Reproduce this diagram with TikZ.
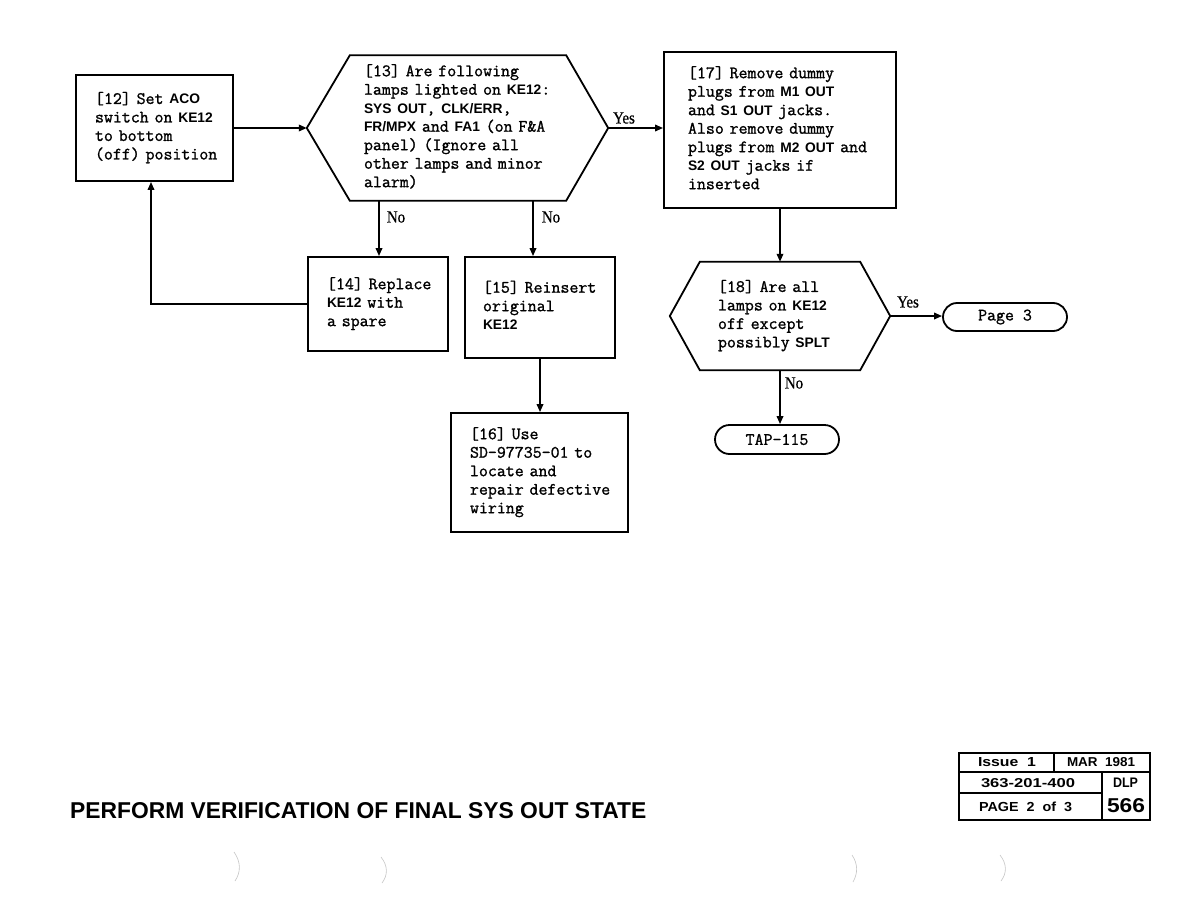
\documentclass[tikz,border=0pt]{standalone}
\usepackage{fontspec}
\usepackage{graphicx}
\usetikzlibrary{shapes.misc,arrows.meta}
\newfontfamily\bsf{Liberation Sans}
\newfontfamily\tw{Latin Modern Mono}[FakeBold=1.2]
\newfontfamily\lser{Liberation Serif}[FakeStretch=0.88,FakeBold=0.6]
\newcommand\B[1]{{\bsf\bfseries\fontsize{13.8pt}{18.5pt}\selectfont #1}}
\newcommand\lines[1]{\begin{tabular}{@{}l@{}}#1\end{tabular}}
\tikzset{
  mono/.style={font=\tw\fontsize{17.4pt}{18.5pt}\selectfont},
  stepbox/.style={draw, line width=1.8pt, rectangle, align=left, mono, inner ysep=0pt},
  hexnode/.style={rectangle, align=left, mono, inner ysep=0pt},
  term/.style={draw, rounded rectangle, line width=1.8pt, mono, inner sep=0pt},
  lab/.style={font=\lser\fontsize{17pt}{17pt}\selectfont, inner sep=0pt},
  conn/.style={line width=1.8pt},
  arr/.style={line width=1.8pt, -{Triangle[length=8pt,width=6.5pt]}},
  punch/.style={draw=gray!45, line width=0.6pt},
  tab/.style={line width=1.8pt}
}
\begin{document}
\begin{tikzpicture}[x=1pt,y=-1pt]
\fill[white] (0,0) rectangle (1188,918);
\useasboundingbox (0,0) rectangle (1188,918);

% step boxes
\node[stepbox, minimum width=157pt, minimum height=106pt, text width=119pt, inner xsep=19pt] (b12) at (154.5,128)
  {\lines{[12] Set \B{ACO}\\switch on \B{KE12}\\to bottom\\(off) position}};
\node[hexnode, minimum width=301pt, minimum height=145pt, text width=187pt, inner xsep=57pt] (h13) at (457.5,128)
  {\lines{[13] Are following\\lamps lighted on \B{KE12}:\\\B{SYS OUT}, \B{CLK/ERR},\\\B{FR/MPX} and \B{FA1} (on F\&A\\panel) (Ignore all\\other lamps and minor\\alarm)}};
\node[stepbox, minimum width=232pt, minimum height=156pt, text width=184pt, inner xsep=24pt] (b17) at (780,130)
  {\lines{[17] Remove dummy\\plugs from \B{M1 OUT}\\and \B{S1 OUT} jacks.\\Also remove dummy\\plugs from \B{M2 OUT} and\\\B{S2 OUT} jacks if\\inserted}};
\node[stepbox, minimum width=140pt, minimum height=94pt, text width=102pt, inner xsep=19pt] (b14) at (378,304)
  {\lines{[14] Replace\\\B{KE12} with\\a spare}};
\node[stepbox, minimum width=150pt, minimum height=101pt, text width=114pt, inner xsep=18pt] (b15) at (540,307.5)
  {\lines{[15] Reinsert\\original\\\B{KE12}}};
\node[stepbox, minimum width=177pt, minimum height=119pt, text width=139pt, inner xsep=19pt] (b16) at (539.5,472.5)
  {\lines{[16] Use\\SD-97735-01 to\\locate and\\repair defective\\wiring}};
\node[hexnode, minimum width=220pt, minimum height=108pt, text width=124pt, inner xsep=48pt] (h18) at (780,316)
  {\lines{[18] Are all\\lamps on \B{KE12}\\off except\\possibly \B{SPLT}}};
\node[term, minimum width=124pt, minimum height=28pt] (p3) at (1005,317) {Page 3};
\node[term, minimum width=124pt, minimum height=29pt] (tap) at (777,439.5) {TAP-115};

% hexagon outlines
\draw[conn] (h13.west) -- ([xshift=43pt]h13.north west) -- ([xshift=-42pt]h13.north east) -- (h13.east)
  -- ([xshift=-42pt]h13.south east) -- ([xshift=43pt]h13.south west) -- cycle;
\draw[conn] (h18.west) -- ([xshift=30pt]h18.north west) -- ([xshift=-30pt]h18.north east) -- (h18.east)
  -- ([xshift=-30pt]h18.south east) -- ([xshift=30pt]h18.south west) -- cycle;

% connectors
\coordinate (u12) at ([xshift=-3.5pt]b12.south);
\coordinate (t14) at ([xshift=1pt]b14.north);
\coordinate (t15) at ([xshift=-7pt]b15.north);
\draw[arr] (b12.east |- h13.west) -- (h13.west);
\draw[arr] (h13.east) -- (h13.east -| b17.west);
\draw[arr] (t14 |- h13.south) -- (t14);
\draw[arr] (t15 |- h13.south) -- (t15);
\draw[arr] (b14.west) -| (u12);
\draw[arr] (b15.south) -- (b15.south |- b16.north);
\draw[arr] (b17.south) -- (b17.south |- h18.north);
\draw[arr] (h18.east) -- (h18.east -| p3.west);
\draw[arr] (h18.south) -- (h18.south |- tap.north);

% labels
\node[lab] (y13) at (624,118) {Yes};
\node[lab] (n14) at (396,217) {No};
\node[lab] (n15) at (551,217) {No};
\node[lab] (y18) at (908,302) {Yes};
\node[lab] (n18) at (794,383) {No};

% title
\node[inner sep=0pt, anchor=west] (title) at (70,811)
  {\resizebox{576pt}{16pt}{\bsf\bfseries PERFORM VERIFICATION OF FINAL SYS OUT STATE}};

% table
\draw[tab] (959,753) rectangle (1150,820);
\draw[tab] (959,772) -- (1150,772);
\draw[tab] (1054,753) -- (1054,772);
\draw[tab] (1102,772) -- (1102,820);
\draw[tab] (959,793) -- (1102,793);
\node[inner sep=0pt] (t1) at (1007,762.5) {\resizebox{58pt}{9pt}{\bsf\bfseries Issue\ \ 1}};
\node[inner sep=0pt] (t2) at (1101,762.5) {\resizebox{68pt}{9pt}{\bsf\bfseries MAR\ \ 1981}};
\node[inner sep=0pt] (t3) at (1028,783) {\resizebox{94pt}{9pt}{\bsf\bfseries 363-201-400}};
\node[inner sep=0pt] (t4) at (1125.5,782.5) {\resizebox{25pt}{9.5pt}{\bsf\bfseries DLP}};
\node[inner sep=0pt] (t5) at (1025.5,807) {\resizebox{93pt}{9.5pt}{\bsf\bfseries PAGE\ \ 2\ \ of\ \ 3}};
\node[inner sep=0pt] (t6) at (1126,806) {\resizebox{38pt}{14pt}{\bsf\bfseries 566}};

% punch marks
\draw[punch] (234,852) .. controls (241,862) and (241,872) .. (235,881);
\draw[punch] (381,857) .. controls (388,866) and (388,875) .. (382,883);
\draw[punch] (852,855) .. controls (858,864) and (858,873) .. (853,882);
\draw[punch] (1000,855) .. controls (1007,864) and (1007,873) .. (1001,881);
\end{tikzpicture}
\end{document}
